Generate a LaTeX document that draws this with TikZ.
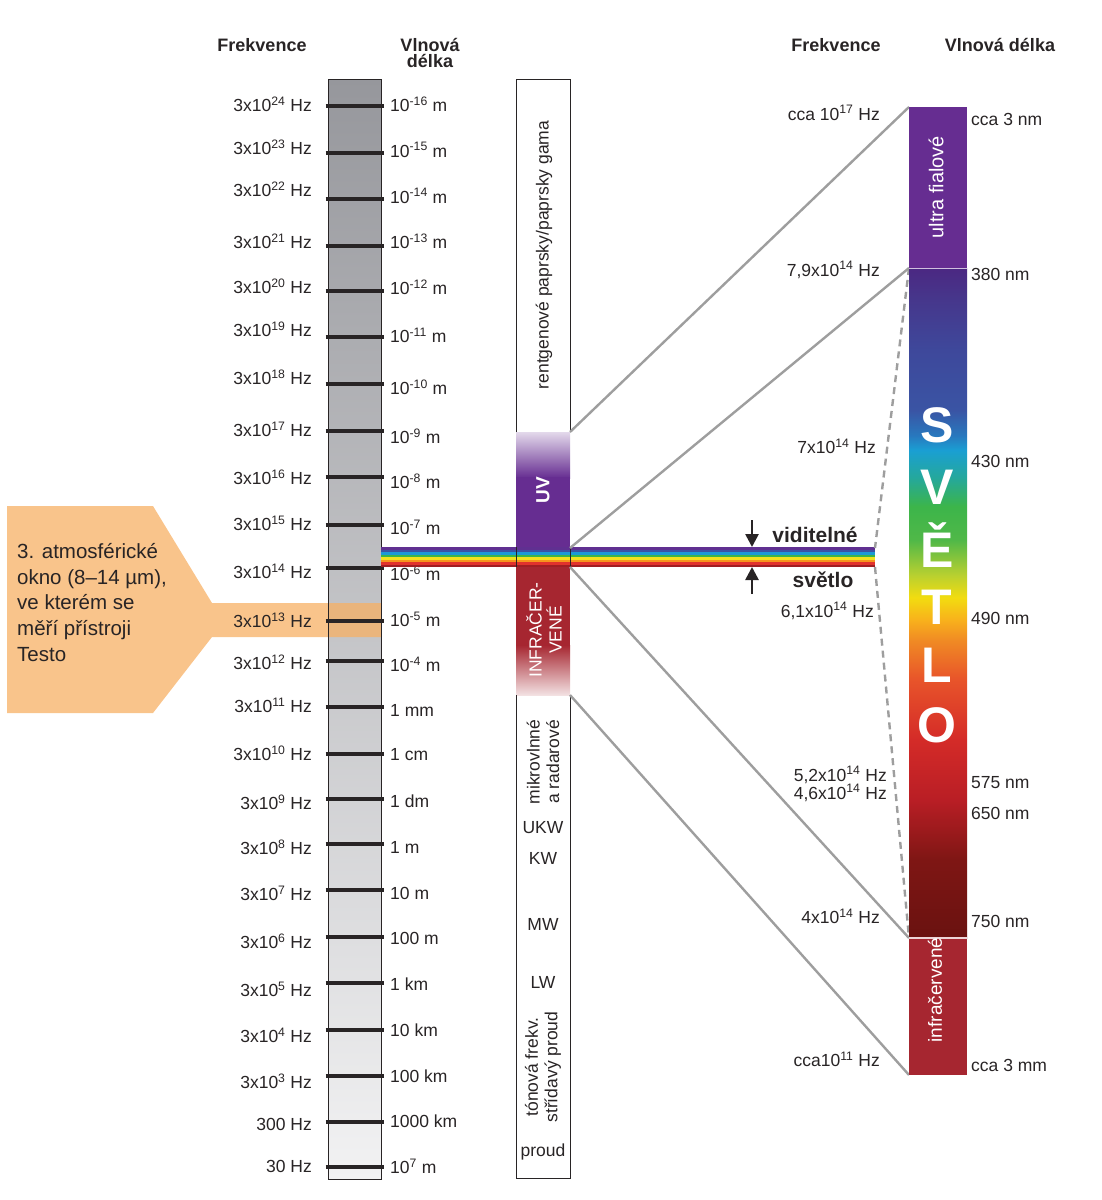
\documentclass[tikz,border=0pt]{standalone}
\usepackage{fontspec}
\setmainfont{Liberation Sans}
\usetikzlibrary{arrows.meta}

\definecolor{txt}{RGB}{40,36,37}
\definecolor{uvviolet}{RGB}{102,45,145}
\definecolor{irred}{RGB}{166,38,48}
\definecolor{linegray}{RGB}{158,158,158}
\definecolor{bandorange}{RGB}{247,176,100}
\definecolor{coltop}{RGB}{150,151,156}
\definecolor{colbot}{RGB}{242,242,243}
% rainbow strip
\definecolor{rb1}{RGB}{96,48,145}
\definecolor{rb2}{RGB}{58,83,164}
\definecolor{rb3}{RGB}{27,154,214}
\definecolor{rb4}{RGB}{57,181,74}
\definecolor{rb5}{RGB}{242,226,30}
\definecolor{rb6}{RGB}{247,148,29}
\definecolor{rb7}{RGB}{225,50,45}
\definecolor{rb8}{RGB}{160,30,35}
% visible spectrum
\definecolor{sp1}{RGB}{75,40,130}
\definecolor{sp2}{RGB}{70,55,140}
\definecolor{sp3}{RGB}{62,72,155}
\definecolor{sp4}{RGB}{58,84,164}
\definecolor{sp5}{RGB}{40,120,190}
\definecolor{sp6}{RGB}{26,159,211}
\definecolor{sp7}{RGB}{37,168,154}
\definecolor{sp8}{RGB}{60,181,74}
\definecolor{sp9}{RGB}{80,184,72}
\definecolor{sp10}{RGB}{184,208,48}
\definecolor{sp11}{RGB}{242,220,16}
\definecolor{sp12}{RGB}{248,176,28}
\definecolor{sp13}{RGB}{240,138,36}
\definecolor{sp14}{RGB}{232,84,42}
\definecolor{sp15}{RGB}{212,43,40}
\definecolor{sp16}{RGB}{185,30,37}
\definecolor{sp17}{RGB}{126,22,20}
\definecolor{sp18}{RGB}{106,18,16}

\pgfdeclareverticalshading{spectrum}{100bp}{color(0bp)=(sp18); color(25bp)=(sp18);
  color(30.8bp)=(sp17); color(35.3bp)=(sp16); color(39.8bp)=(sp15); color(44.3bp)=(sp14);
  color(47.2bp)=(sp13); color(48.7bp)=(sp12); color(50.4bp)=(sp11); color(52.1bp)=(sp10);
  color(54.7bp)=(sp9); color(57.2bp)=(sp8); color(59.3bp)=(sp7); color(61.4bp)=(sp6);
  color(62.5bp)=(sp5); color(64.4bp)=(sp4); color(68.9bp)=(sp3); color(72.6bp)=(sp2);
  color(75bp)=(sp1); color(100bp)=(sp1)}

\newcommand\pw[1]{\textsuperscript{#1}}

\begin{document}
\begin{tikzpicture}[x=1pt,y=-1pt,
    lbl/.style={font=\fontsize{17.5}{19.5}\selectfont, text=txt, inner sep=0pt},
    head/.style={font=\fontsize{18}{16}\selectfont\bfseries, text=txt, inner sep=0pt, align=center},
    vislbl/.style={font=\fontsize{21}{23}\selectfont\bfseries, text=txt, inner sep=0pt},
    inbar/.style={lbl, text=white, rotate=90, font=\fontsize{20}{22}\selectfont},
    letter/.style={font=\fontsize{50}{50}\selectfont\bfseries, text=white, inner sep=0pt},
    zoomline/.style={draw=linegray, line width=2.4pt},
    zoomdash/.style={draw=linegray, line width=2.4pt, dash pattern=on 7pt off 5pt},
    scaletick/.style={draw=txt, line width=3.3pt},
    pointer/.style={draw=txt, line width=2.6pt, -{Triangle[length=13pt,width=13pt]}}]

    \useasboundingbox (0,0) rectangle (1101,1200);

    % left scale
    \shade[top color=coltop, bottom color=colbot] (328,79) rectangle (381,1179);
    \fill[bandorange, fill opacity=0.75] (7,506) -- (153,506) -- (212,603) -- (381,603)
        -- (381,637) -- (212,637) -- (153,713) -- (7,713) -- cycle;
    \draw[txt, line width=0.9pt] (328,79) rectangle (381,1179);

    \node[lbl, align=left, anchor=north west, font=\fontsize{20.5}{25.8}\selectfont] (window) at (17,543)
        {3. atmosférické\\okno (8–14 µm),\\ve kterém se\\měří přístroji\\Testo};

    \node[head] (fleft) at (262,45) {Frekvence};
    \node[head] (wleft) at (430,53) {Vlnová\\délka};

    \foreach \t/\fy/\f/\wy/\w in {
        106/104/3x10\pw{24} Hz/104/10\pw{-16} m,
        153/147/3x10\pw{23} Hz/150/10\pw{-15} m,
        199/189/3x10\pw{22} Hz/196/10\pw{-14} m,
        246/241/3x10\pw{21} Hz/241/10\pw{-13} m,
        291/286/3x10\pw{20} Hz/287/10\pw{-12} m,
        337/329/3x10\pw{19} Hz/335/10\pw{-11} m,
        384/377/3x10\pw{18} Hz/387/10\pw{-10} m,
        431/429/3x10\pw{17} Hz/436/10\pw{-9} m,
        477/477/3x10\pw{16} Hz/481/10\pw{-8} m,
        525/523/3x10\pw{15} Hz/527/10\pw{-7} m,
        568/571/3x10\pw{14} Hz/573/10\pw{-6} m,
        621/620/3x10\pw{13} Hz/619/10\pw{-5} m,
        661/662/3x10\pw{12} Hz/664/10\pw{-4} m,
        707/705/3x10\pw{11} Hz/710/1 mm,
        754/753/3x10\pw{10} Hz/755/1 cm,
        799/802/3x10\pw{9} Hz/801/1 dm,
        844/847/3x10\pw{8} Hz/847/1 m,
        890/893/3x10\pw{7} Hz/893/10 m,
        937/941/3x10\pw{6} Hz/938/100 m,
        983/989/3x10\pw{5} Hz/984/1 km,
        1030/1035/3x10\pw{4} Hz/1030/10 km,
        1076/1081/3x10\pw{3} Hz/1076/100 km,
        1122/1124/300 Hz/1121/1000 km,
        1167/1166/30 Hz/1166/10\pw{7} m}
    {
        \draw[scaletick] (325.5,\t) -- (383.5,\t);
        \node[lbl, anchor=east] (f\t) at (312,\fy) {\f};
        \node[lbl, anchor=west] (w\t) at (390,\wy) {\w};
    }

    % middle bar
    \shade[top color=uvviolet!18, bottom color=uvviolet] (516,432) rectangle (570,478);
    \fill[uvviolet] (516,477) rectangle (570,548);
    \fill[irred] (516,566) rectangle (570,646);
    \shade[top color=irred, bottom color=irred!14] (516,645) rectangle (570,695);
    \draw[txt, line width=0.9pt] (516,432) -- (516,79) -- (570,79) -- (570,432);
    \draw[txt, line width=0.9pt] (516,695) -- (516,1178) -- (570,1178) -- (570,695);

    % visible light strip
    \foreach \c [count=\i from 0] in {rb1,rb2,rb3,rb4,rb5,rb6,rb7,rb8}
        \fill[\c] (381,{547+2.5*\i}) rectangle (875,{549.6+2.5*\i});
    \foreach \x in {516,570}
        \draw[txt, line width=1pt] (\x,547) -- (\x,567);

    \coordinate (xraybot) at (570,432);
    \coordinate (stripl1) at (570,548);
    \coordinate (stripl2) at (570,567);
    \coordinate (irbot) at (570,695);
    \coordinate (stripr1) at (875,548);
    \coordinate (stripr2) at (875,567);
    \coordinate (uvtop) at (909,107);
    \coordinate (vistop) at (909,268);
    \coordinate (visbot) at (909,938);
    \coordinate (irend) at (909,1075);

    \draw[zoomline] (xraybot) -- (uvtop);
    \draw[zoomline] (stripl1) -- (vistop);
    \draw[zoomline] (stripl2) -- (visbot);
    \draw[zoomline] (irbot) -- (irend);
    \draw[zoomdash] (vistop) -- (stripr1);
    \draw[zoomdash] (stripr2) -- (visbot);

    \node[lbl, rotate=90] (xray) at (544,255) {rentgenové paprsky/paprsky gama};
    \node[inbar, font=\fontsize{19}{20}\selectfont\bfseries] (uv) at (543,490) {UV};
    \node[inbar, align=center, font=\fontsize{17.5}{20}\selectfont] (ir) at (544,630) {INFRAČER-\\VENÉ};
    \node[lbl, rotate=90, align=center] (micro) at (543,762) {mikrovlnné\\a radarové};
    \node[lbl] (ukw) at (543,828) {UKW};
    \node[lbl] (kw) at (543,858) {KW};
    \node[lbl] (mw) at (543,924) {MW};
    \node[lbl] (lw) at (543,982) {LW};
    \node[lbl, rotate=90, align=center] (tone) at (543,1067) {tónová frekv.\\střídavý proud};
    \node[lbl] (proud) at (543,1152) {proud};

    % right bar
    \fill[uvviolet] (909,107) rectangle (967,268);
    \shade[shading=spectrum] (909,268) rectangle (967,938);
    \fill[irred] (909,938) rectangle (967,1075);
    \draw[white!70!uvviolet, line width=1pt] (909,268) -- (967,268);
    \draw[white!80!irred, line width=1.2pt] (909,938) -- (967,938);

    \node[inbar] (ultra) at (936,187) {ultra fialové};
    \node[inbar, font=\fontsize{19}{21}\selectfont] (infra) at (935,990) {infračervené};
    \foreach \l/\y in {S/425,V/487,Ě/545,T/607,L/665,O/725}
        \node[letter] (l\y) at (937,\y) {\l};

    \node[head] (fright) at (836,45) {Frekvence};
    \node[head] (wright) at (1000,45) {Vlnová délka};

    \node[lbl, anchor=east] (fr1) at (880,113) {cca 10\pw{17} Hz};
    \node[lbl, anchor=east] (fr2) at (880,270) {7,9x10\pw{14} Hz};
    \node[lbl, anchor=east] (fr3) at (876,446) {7x10\pw{14} Hz};
    \node[lbl, anchor=east] (fr4) at (874,611) {6,1x10\pw{14} Hz};
    \node[lbl, anchor=east] (fr5) at (887,775) {5,2x10\pw{14} Hz};
    \node[lbl, anchor=east] (fr6) at (887,793) {4,6x10\pw{14} Hz};
    \node[lbl, anchor=east] (fr7) at (880,916) {4x10\pw{14} Hz};
    \node[lbl, anchor=east] (fr8) at (880,1059) {cca10\pw{11} Hz};

    \node[lbl, anchor=west] (wr1) at (971,119) {cca 3 nm};
    \node[lbl, anchor=west] (wr2) at (971,274) {380 nm};
    \node[lbl, anchor=west] (wr3) at (971,461) {430 nm};
    \node[lbl, anchor=west] (wr4) at (971,618) {490 nm};
    \node[lbl, anchor=west] (wr5) at (971,783) {575 nm};
    \node[lbl, anchor=west] (wr6) at (971,813) {650 nm};
    \node[lbl, anchor=west] (wr7) at (971,921) {750 nm};
    \node[lbl, anchor=west] (wr8) at (971,1065) {cca 3 mm};

    % visible light pointers
    \node[vislbl] (vis1) at (815,535) {viditelné};
    \node[vislbl] (vis2) at (823,580) {světlo};
    \coordinate (pdown) at (752,520);
    \coordinate (pdownend) at (752,547);
    \coordinate (pup) at (752,594);
    \coordinate (pupend) at (752,567);
    \draw[pointer] (pdown) -- (pdownend);
    \draw[pointer] (pup) -- (pupend);
\end{tikzpicture}
\end{document}
